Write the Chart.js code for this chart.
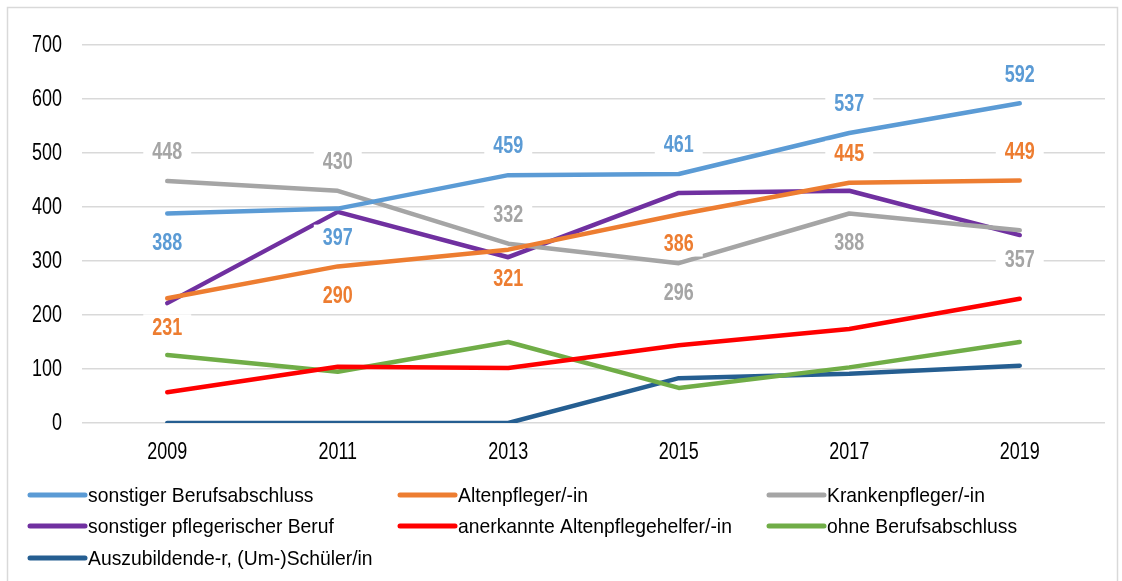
<!DOCTYPE html>
<html>
<head>
<meta charset="utf-8">
<script src="https://cdn.jsdelivr.net/npm/chart.js@4"></script>
<style>
  html, body { margin: 0; padding: 0; background: #fff; }
  #wrap { width: 1122px; height: 581px; position: relative; }
</style>
</head>
<body>
<div id="wrap"><canvas id="chart"></canvas></div>
<script>
const years = ['2009', '2011', '2013', '2015', '2017', '2019'];

const sonstigerBerufsabschluss = [388, 397, 459, 461, 537, 592];
const altenpfleger = [231, 290, 321, 386, 445, 449];
const krankenpfleger = [448, 430, 332, 296, 388, 357];
const sonstigerPflegerisch = [222, 391, 307, 426, 430, 348];
const altenpflegehelfer = [57, 104, 102, 144, 174, 230];
const ohneBerufsabschluss = [126, 95, 150, 65, 103, 150];
const auszubildende = [0, 0, 0, 83, 91, 106];

// label placement per point: -1 above, 1 below
const blueLabelPos = [1, 1, -1, -1, -1, -1];
const orangeLabelPos = [1, 1, 1, 1, -1, -1];
const greyLabelPos = [-1, -1, -1, 1, 1, 1];

// the original uses a narrow face; squeeze Liberation Sans to get close
const FONT = '"Liberation Sans", Arial, sans-serif';
const SQUEEZE = 0.78;

function narrowText(c, txt, x, y, align, sx) {
    c.save();
    c.translate(x, y);
    c.scale(sx || SQUEEZE, 1);
    c.textAlign = align;
    c.fillText(txt, 0, 0);
    c.restore();
}

function series(label, data, color, labelPos) {
    return {
        label: label,
        data: data,
        borderColor: color,
        backgroundColor: color,
        borderWidth: 4.5,
        borderCapStyle: 'round',
        borderJoinStyle: 'round',
        pointRadius: 0,
        pointHoverRadius: 0,
        tension: 0,
        labelPos: labelPos
    };
}

const frame = {
    id: 'frame',
    beforeDraw(chart) {
        const c = chart.ctx;
        c.save();
        c.fillStyle = '#fff';
        c.fillRect(0, 0, chart.width, chart.height);
        c.strokeStyle = '#d9d9d9';
        c.lineWidth = 1.5;
        c.strokeRect(7.5, 7.5, chart.width - 12, chart.height - 4);
        c.restore();
    }
};

const axisText = {
    id: 'axisText',
    afterDraw(chart) {
        const c = chart.ctx;
        const ys = chart.scales.y;
        const xs = chart.scales.x;
        c.save();
        c.fillStyle = '#000';
        c.font = '23px ' + FONT;
        c.textBaseline = 'middle';
        ys.ticks.forEach((t, i) => {
            narrowText(c, String(t.value), 62, ys.getPixelForTick(i) + 1, 'right');
        });
        chart.data.labels.forEach((lab, i) => {
            narrowText(c, lab, xs.getPixelForTick(i), 453, 'center');
        });
        c.restore();
    }
};

const valueLabels = {
    id: 'valueLabels',
    afterDatasetsDraw(chart) {
        const c = chart.ctx;
        c.save();
        c.font = 'bold 23px ' + FONT;
        c.textBaseline = 'middle';
        chart.data.datasets.forEach((ds, i) => {
            if (!ds.labelPos) return;
            chart.getDatasetMeta(i).data.forEach((pt, j) => {
                const txt = String(ds.data[j]);
                const y = pt.y + ds.labelPos[j] * 29;
                const w = c.measureText(txt).width * SQUEEZE + 18;
                c.fillStyle = '#fff';
                c.fillRect(pt.x - w / 2, y - 13, w, 26);
                c.fillStyle = ds.borderColor;
                narrowText(c, txt, pt.x, y + 1, 'center');
            });
        });
        c.restore();
    }
};

const gridLegend = {
    id: 'gridLegend',
    afterDraw(chart) {
        const c = chart.ctx;
        const cols = [30, 400, 769];
        const rows = [495, 526, 558];
        c.save();
        c.font = '21px ' + FONT;
        c.textBaseline = 'middle';
        chart.data.datasets.forEach((ds, i) => {
            const x = cols[i % 3];
            const y = rows[Math.floor(i / 3)];
            c.strokeStyle = ds.borderColor;
            c.lineWidth = 5;
            c.lineCap = 'round';
            c.beginPath();
            c.moveTo(x, y);
            c.lineTo(x + 55, y);
            c.stroke();
            c.fillStyle = '#000';
            narrowText(c, ds.label, x + 58, y + 1, 'left', 0.92);
        });
        c.restore();
    }
};

new Chart(document.getElementById('chart'), {
    type: 'line',
    data: {
        labels: years,
        datasets: [
            series('sonstiger Berufsabschluss', sonstigerBerufsabschluss, '#5b9bd5', blueLabelPos),
            series('Altenpfleger/-in', altenpfleger, '#ed7d31', orangeLabelPos),
            series('Krankenpfleger/-in', krankenpfleger, '#a5a5a5', greyLabelPos),
            series('sonstiger pflegerischer Beruf', sonstigerPflegerisch, '#7030a0'),
            series('anerkannte Altenpflegehelfer/-in', altenpflegehelfer, '#ff0000'),
            series('ohne Berufsabschluss', ohneBerufsabschluss, '#70ad47'),
            series('Auszubildende-r, (Um-)Schüler/in', auszubildende, '#255e91')
        ]
    },
    options: {
        responsive: true,
        maintainAspectRatio: false,
        animation: false,
        layout: { padding: { top: 45, right: 17, bottom: 0, left: 0 } },
        plugins: {
            legend: { display: false },
            tooltip: { enabled: false }
        },
        scales: {
            y: {
                min: 0,
                max: 700,
                ticks: { stepSize: 100, display: false },
                grid: { color: '#d9d9d9', lineWidth: 1.5, drawTicks: false },
                border: { display: false },
                afterFit(scale) { scale.width = 82; }
            },
            x: {
                offset: true,
                ticks: { display: false },
                grid: { display: false, drawTicks: false },
                border: { display: false },
                afterFit(scale) { scale.height = 158; }
            }
        }
    },
    plugins: [frame, axisText, valueLabels, gridLegend]
});
</script>
</body>
</html>
